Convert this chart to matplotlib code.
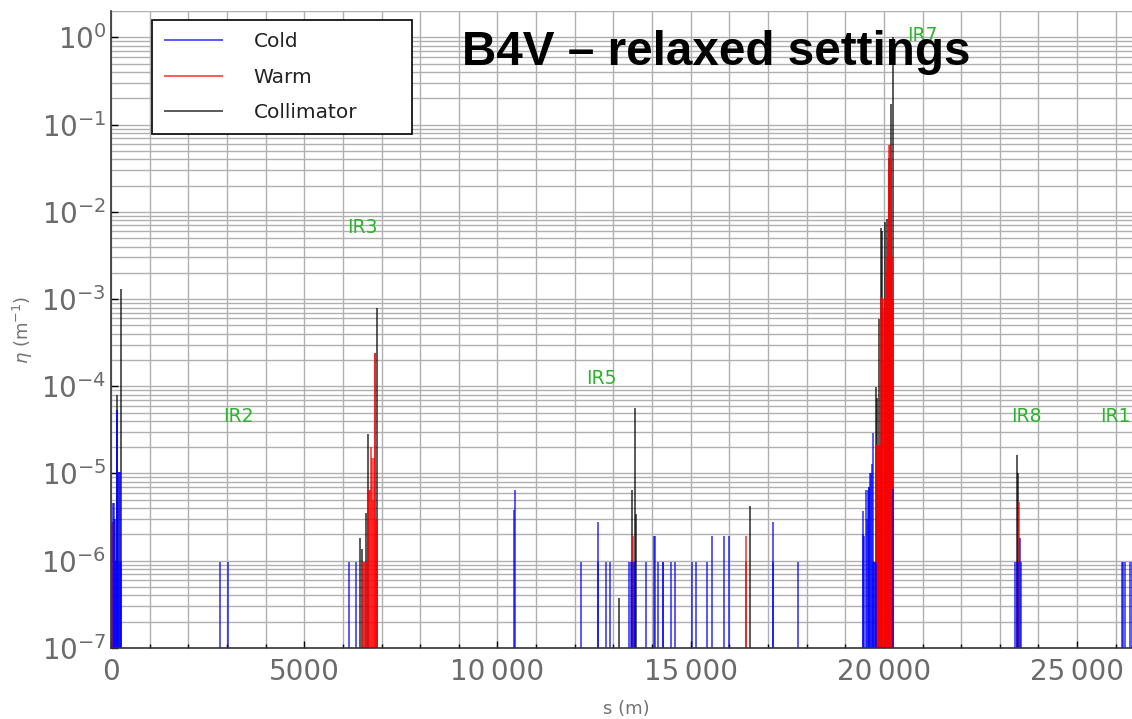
import numpy as np
import matplotlib
matplotlib.use("Agg")
import matplotlib.pyplot as plt
from matplotlib.ticker import MultipleLocator, LogLocator, FuncFormatter, NullFormatter

# loss map: position along the ring s (m) and local inefficiency eta (1/m)
cold_s = [55, 70, 85, 100, 115, 130, 145, 160, 175, 190, 205, 220, 235, 248,
          2821, 3020,
          6167, 6341,
          10440, 10455,
          12164, 12590, 12598, 12810, 12922,
          13410, 13450, 13490, 13530, 13570,
          13846, 14045, 14070, 14164, 14278, 14294, 14485, 14596,
          15028, 15132, 15432, 15554, 15872, 15986,
          17120, 17128, 17772,
          19450, 19462, 19488, 19540, 19560, 19583, 19605, 19625, 19645, 19665,
          19690, 19708, 19725, 19746, 19770, 19790, 20238,
          23400, 23440, 23480, 23520, 23545,
          26150, 26200, 26250, 26370, 26410]
cold_eta = [4.6e-6, 3.0e-6, 4.6e-6, 9.6e-7, 3.0e-6, 9.6e-7, 5.4e-5, 5.4e-5, 9.6e-7,
            1.05e-5, 1.05e-5, 1.05e-5, 9.6e-7, 9.6e-7,
            9.6e-7, 9.6e-7,
            9.6e-7, 9.6e-7,
            3.8e-6, 6.5e-6,
            9.6e-7, 9.6e-7, 2.8e-6, 9.6e-7, 9.6e-7,
            9.6e-7, 9.6e-7, 9.6e-7, 9.6e-7, 9.6e-7,
            9.6e-7, 1.9e-6, 1.9e-6, 9.6e-7, 9.6e-7, 9.6e-7, 9.6e-7, 9.6e-7,
            9.6e-7, 9.6e-7, 9.6e-7, 1.9e-6, 1.9e-6, 1.9e-6,
            9.6e-7, 2.8e-6, 9.6e-7,
            2.0e-6, 3.7e-6, 1.9e-6, 6.5e-6, 3.0e-6, 6.5e-6, 7.0e-6, 7.0e-6, 1.0e-5, 1.0e-5,
            1.3e-5, 2.9e-5, 9.6e-7, 9.6e-7, 9.6e-7, 9.6e-7, 6.6e-6,
            9.6e-7, 9.6e-7, 9.6e-7, 1.8e-6, 9.6e-7,
            9.6e-7, 9.6e-7, 9.6e-7, 9.6e-7, 9.6e-7]

warm_s = [25, 40,
          6530, 6550, 6570, 6620, 6650, 6675, 6700, 6725, 6750, 6775,
          6800, 6825, 6840, 6865, 6890,
          13501, 16430, 16445,
          19800, 19818, 19836, 19854, 19872, 19890, 19908, 19926, 19944, 19962,
          19980, 19998, 20016, 20034, 20052, 20070, 20088, 20106, 20124, 20142,
          20160, 20178, 20196, 20214, 20232,
          23499]
warm_eta = [2.8e-6, 2.8e-6,
            9.6e-7, 9.6e-7, 9.6e-7, 9.6e-7, 6.5e-6, 6.5e-6, 6.5e-6, 2.0e-5, 1.5e-5, 5.0e-6,
            1.5e-5, 2.4e-4, 2.4e-4, 3.0e-6, 3.0e-6,
            1.9e-6, 1.9e-6, 9.6e-7,
            2.2e-5, 2.1e-5, 2.1e-5, 1.5e-5, 2.1e-5, 2.1e-5, 2.0e-5, 1.07e-3, 1.07e-3, 1.0e-3,
            8.0e-4, 1.0e-3, 2.0e-4, 1.0e-3, 6.0e-4, 3.0e-3, 2.0e-3, 5.0e-3, 3.0e-2, 5.9e-2,
            5.9e-2, 4.0e-2, 6.5e-3, 3.0e-3, 1.0e-3,
            4.7e-6]

coll_s = [150, 250,
          6444, 6496, 6599, 6651, 6876,
          13139, 13483, 13569, 13575, 16537,
          19798, 19832, 19868, 19920, 19953, 20023, 20075, 20127, 20178, 20230,
          23455, 23470]
coll_eta = [7.9e-5, 1.3e-3,
            1.8e-6, 1.35e-6, 3.5e-6, 2.8e-5, 7.8e-4,
            3.7e-7, 6.5e-6, 5.6e-5, 3.4e-6, 4.2e-6,
            9.8e-5, 7.4e-5, 5.9e-4, 6.5e-3, 6.0e-3, 7.6e-3, 8.3e-3, 4.2e-2, 1.73e-1, 1.0,
            1.63e-5, 1.0e-5]

ir_names = ["IR2", "IR3", "IR5", "IR7", "IR8", "IR1"]
ir_s = [3300, 6496, 12694, 20989, 23680, 25996]
ir_eta = [4.45e-5, 6.7e-3, 1.24e-4, 1.04, 4.45e-5, 4.45e-5]

ymin = 1e-7
circumference = 26659

fig = plt.figure(figsize=(11.32, 7.19), dpi=100)
ax = fig.add_axes([0.0981, 0.0989, 0.91, 0.8855])
ax.set_yscale("log")

# collimators underneath, cold magnets on top
handles = {}
series = [(coll_s, coll_eta, "black", "Collimator"),
          (warm_s, warm_eta, "red", "Warm"),
          (cold_s, cold_eta, "blue", "Cold")]
for s, eta, col, lab in series:
    handles[lab] = ax.vlines(s, ymin, eta, colors=col, lw=1.3, alpha=0.7, label=lab)

for name, s, eta in zip(ir_names, ir_s, ir_eta):
    ax.text(s, eta, name, color="#2cb52c", fontsize=13.5, ha="center", va="center")

ax.set_xlim(0, circumference)
ax.set_ylim(ymin, 2)

ax.xaxis.set_major_locator(MultipleLocator(5000))
ax.xaxis.set_minor_locator(MultipleLocator(1000))
ax.yaxis.set_major_locator(LogLocator(base=10, numticks=20))
ax.yaxis.set_minor_locator(LogLocator(base=10, subs=np.arange(2, 10), numticks=20))
ax.yaxis.set_minor_formatter(NullFormatter())


def s_fmt(v, pos):
    n = int(round(v))
    if n >= 10000:
        return f"{n:,}".replace(",", "\u2009")
    return str(n)


ax.xaxis.set_major_formatter(FuncFormatter(s_fmt))

ax.grid(True, which="both", color="#b0b0b0", lw=1.0)
ax.set_axisbelow(True)
ax.tick_params(which="both", direction="in", color="black", labelcolor="0.42",
               labelsize=20, top=False, right=False)
ax.tick_params(axis="both", which="major", length=5, width=1)
ax.tick_params(axis="x", which="major", pad=7)
ax.tick_params(axis="x", which="minor", length=3, width=1)
ax.tick_params(axis="y", which="minor", length=0)
for side in ["top", "right"]:
    ax.spines[side].set_visible(False)
for side in ["left", "bottom"]:
    ax.spines[side].set_color("#333333")
    ax.spines[side].set_linewidth(1.2)

ax.set_xlabel("s (m)", fontsize=13, color="0.45", labelpad=10)
ax.set_ylabel(r"$\eta$ (m$^{-1}$)", fontsize=13, color="0.45", labelpad=4)

order = ["Cold", "Warm", "Collimator"]
leg = ax.legend([handles[k] for k in order], order,
                loc="upper left", bbox_to_anchor=(0.0398, 0.9862, 0.2524, 0),
                mode="expand", borderaxespad=0, fontsize=14.5, fancybox=False,
                framealpha=1, edgecolor="black", borderpad=0.6, labelspacing=0.82,
                handlelength=2.9, handletextpad=1.55)
leg.get_frame().set_linewidth(1.2)
for t in leg.get_texts():
    t.set_color("#222222")

fig.text(462 / 1132, 1 - 65 / 719, "B4V \u2013 relaxed settings", fontsize=34.3,
         fontweight="bold", family="Liberation Sans", color="black",
         ha="left", va="baseline")

fig.savefig("out.png", dpi=100)
